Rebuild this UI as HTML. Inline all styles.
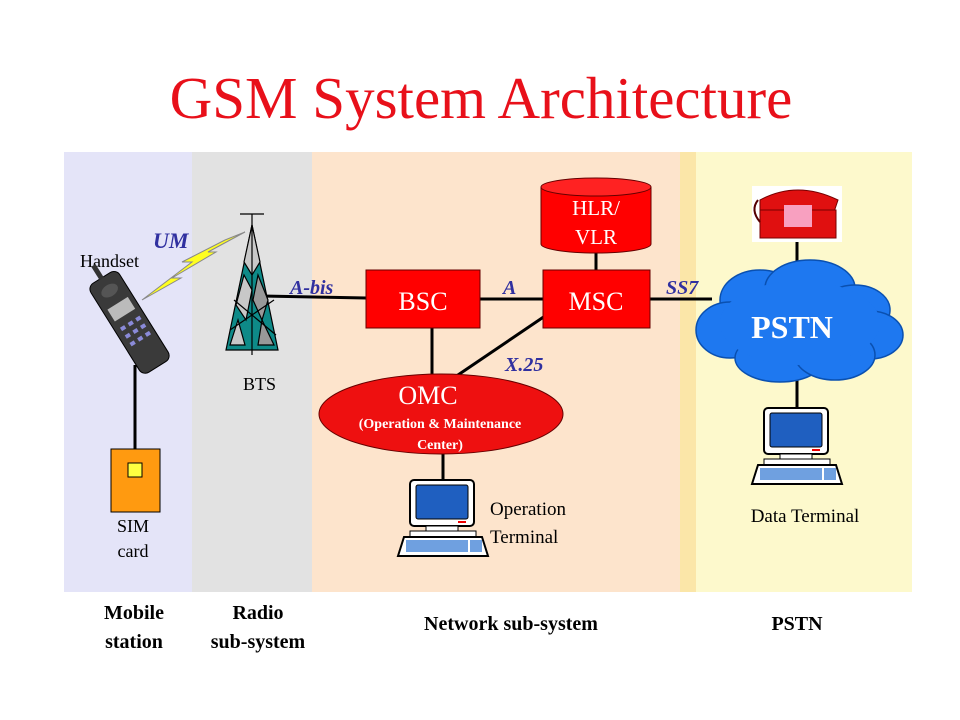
<!DOCTYPE html>
<html><head><style>
body{margin:0;background:#fff;}
svg{display:block;font-family:"Liberation Serif",serif;}
</style></head><body>
<svg width="960" height="720" viewBox="0 0 960 720" xmlns="http://www.w3.org/2000/svg">
<defs>
<g id="comp">
<rect x="12" y="0" width="64" height="46" rx="4" fill="#fff" stroke="#000" stroke-width="2"/>
<rect x="18" y="5" width="52" height="34" rx="2" fill="#1f5fc0" stroke="#000"/>
<rect x="60" y="41" width="8" height="2" fill="#e00"/>
<rect x="28" y="46" width="32" height="5" fill="#fff" stroke="#000"/>
<rect x="12" y="51" width="66" height="6" fill="#fff" stroke="#000"/>
<polygon points="6,57 84,57 90,76 0,76" fill="#fff" stroke="#000" stroke-width="2"/>
<rect x="8" y="60" width="62" height="12" fill="#6fa0e0"/>
<rect x="72" y="60" width="12" height="12" fill="#6fa0e0"/>
</g>
</defs>
<rect width="960" height="720" fill="#fff"/>
<rect x="64" y="152" width="128" height="440" fill="#e4e4f8"/>
<rect x="192" y="152" width="120" height="440" fill="#e2e2e2"/>
<rect x="312" y="152" width="370" height="440" fill="#fde4cc"/>
<rect x="680" y="152" width="16" height="440" fill="#fbe6a8"/>
<rect x="696" y="152" width="216" height="440" fill="#fdf9cc"/>
<text x="481" y="118" text-anchor="middle" font-size="59" fill="#e8101a">GSM System Architecture</text>

<g stroke="#000" stroke-width="3" fill="none">
<line x1="135" y1="365" x2="135" y2="450"/>
<line x1="262" y1="296" x2="366" y2="298"/>
<line x1="480" y1="299" x2="543" y2="299"/>
<line x1="650" y1="299" x2="712" y2="299"/>
<line x1="596" y1="250" x2="596" y2="270"/>
<line x1="432" y1="328" x2="432" y2="378"/>
<line x1="545" y1="316" x2="455" y2="377"/>
<line x1="443" y1="450" x2="443" y2="482"/>
<line x1="797" y1="240" x2="797" y2="270"/>
<line x1="797" y1="380" x2="797" y2="410"/>
</g>

<polygon points="142,300 192,262 182,262 225,240 245,232 208,252 216,252 172,278 181,278" fill="#ffff20" stroke="#888" stroke-width="1"/>
<text x="153" y="248" font-size="22" font-weight="bold" font-style="italic" fill="#3030a0">UM</text>
<text x="80" y="267" font-size="18">Handset</text>

<g transform="rotate(-32 130 325)">
<rect x="114" y="270" width="34" height="105" rx="7" fill="#3a3a3a" stroke="#000"/>
<rect x="119" y="300" width="24" height="14" fill="#bbb"/>
<ellipse cx="131" cy="285" rx="9" ry="6" fill="#555"/>
<g fill="#8a8ad8"><rect x="120" y="322" width="5" height="4"/><rect x="129" y="322" width="5" height="4"/><rect x="138" y="322" width="5" height="4"/><rect x="120" y="331" width="5" height="4"/><rect x="129" y="331" width="5" height="4"/><rect x="138" y="331" width="5" height="4"/><rect x="120" y="340" width="5" height="4"/><rect x="129" y="340" width="5" height="4"/><rect x="138" y="340" width="5" height="4"/></g>
<rect x="128" y="255" width="5" height="16" fill="#333"/>
</g>

<g stroke="#000" stroke-width="1.2">
<polygon points="252,225 226,350 278,350" fill="#0e8a88"/>
<polygon points="252,225 244,262 252,275 260,262" fill="#c8c8c8"/>
<polygon points="244,275 236,305 246,320 252,290" fill="#c8c8c8"/>
<polygon points="258,275 253,300 262,320 268,300" fill="#999"/>
<polygon points="238,320 230,345 245,345" fill="#c8c8c8"/>
<polygon points="262,320 258,345 274,345" fill="#999"/>
<line x1="252" y1="225" x2="252" y2="355"/>
<line x1="230" y1="330" x2="274" y2="300"/>
<line x1="234" y1="300" x2="276" y2="335"/>
<line x1="240" y1="214" x2="264" y2="214"/>
<line x1="252" y1="214" x2="252" y2="225"/>
</g>
<text x="243" y="390" font-size="18">BTS</text>
<text x="290" y="294" font-size="20" font-weight="bold" font-style="italic" fill="#3030a0">A-bis</text>

<rect x="111" y="449" width="49" height="63" fill="#ff9a10" stroke="#000"/>
<rect x="128" y="463" width="14" height="14" fill="#ffff40" stroke="#000"/>
<text x="133" y="532" text-anchor="middle" font-size="18">SIM</text>
<text x="133" y="557" text-anchor="middle" font-size="18">card</text>

<rect x="366" y="270" width="114" height="58" fill="#f00" stroke="#600"/>
<text x="423" y="310" text-anchor="middle" font-size="26" fill="#fff">BSC</text>
<rect x="543" y="270" width="107" height="58" fill="#f00" stroke="#600"/>
<text x="596" y="310" text-anchor="middle" font-size="26" fill="#fff">MSC</text>
<text x="503" y="294" font-size="20" font-weight="bold" font-style="italic" fill="#3030a0">A</text>
<text x="666" y="294" font-size="20" font-weight="bold" font-style="italic" fill="#3030a0">SS7</text>
<text x="505" y="371" font-size="20" font-weight="bold" font-style="italic" fill="#3030a0">X.25</text>

<path d="M541,187 L541,244 A55,9 0 0 0 651,244 L651,187" fill="#f00" stroke="#600"/>
<ellipse cx="596" cy="187" rx="55" ry="9" fill="#f22" stroke="#600"/>
<text x="596" y="215" text-anchor="middle" font-size="21" fill="#fff">HLR/</text>
<text x="596" y="244" text-anchor="middle" font-size="21" fill="#fff">VLR</text>

<ellipse cx="441" cy="414" rx="122" ry="40" fill="#ee1010" stroke="#600"/>
<text x="428" y="404" text-anchor="middle" font-size="26" fill="#fff">OMC</text>
<text x="440" y="428" text-anchor="middle" font-size="14" font-weight="bold" fill="#fff">(Operation &amp; Maintenance</text>
<text x="440" y="449" text-anchor="middle" font-size="14" font-weight="bold" fill="#fff">Center)</text>

<use href="#comp" x="398" y="480"/>
<text x="490" y="515" font-size="19">Operation</text>
<text x="490" y="543" font-size="19">Terminal</text>

<rect x="752" y="186" width="90" height="56" fill="#fff"/>
<path d="M760,200 Q797,180 838,200 L834,212 L760,212 Z" fill="#e01010" stroke="#700"/>
<rect x="760" y="210" width="76" height="28" fill="#e01010" stroke="#700"/>
<rect x="784" y="205" width="28" height="22" fill="#f8a0c0"/>
<path d="M758,200 Q750,210 760,222" stroke="#500" stroke-width="2" fill="none"/>

<g fill="#1e78f0" stroke="#0a50b0" stroke-width="1.5">
<ellipse cx="760" cy="300" rx="40" ry="30"/>
<ellipse cx="810" cy="288" rx="45" ry="28"/>
<ellipse cx="855" cy="310" rx="35" ry="25"/>
<ellipse cx="870" cy="335" rx="33" ry="24"/>
<ellipse cx="730" cy="330" rx="34" ry="28"/>
<ellipse cx="780" cy="358" rx="45" ry="24"/>
<ellipse cx="835" cy="355" rx="40" ry="25"/>
</g>
<ellipse cx="800" cy="323" rx="80" ry="42" fill="#1e78f0"/>
<text x="792" y="338" text-anchor="middle" font-size="32" font-weight="bold" fill="#fff">PSTN</text>

<use href="#comp" x="752" y="408"/>
<text x="805" y="522" text-anchor="middle" font-size="19">Data Terminal</text>

<g font-size="20" font-weight="bold" text-anchor="middle">
<text x="134" y="619">Mobile</text>
<text x="134" y="648">station</text>
<text x="258" y="619">Radio</text>
<text x="258" y="648">sub-system</text>
<text x="511" y="630">Network sub-system</text>
<text x="797" y="630">PSTN</text>
</g>
</svg>
</body></html>
